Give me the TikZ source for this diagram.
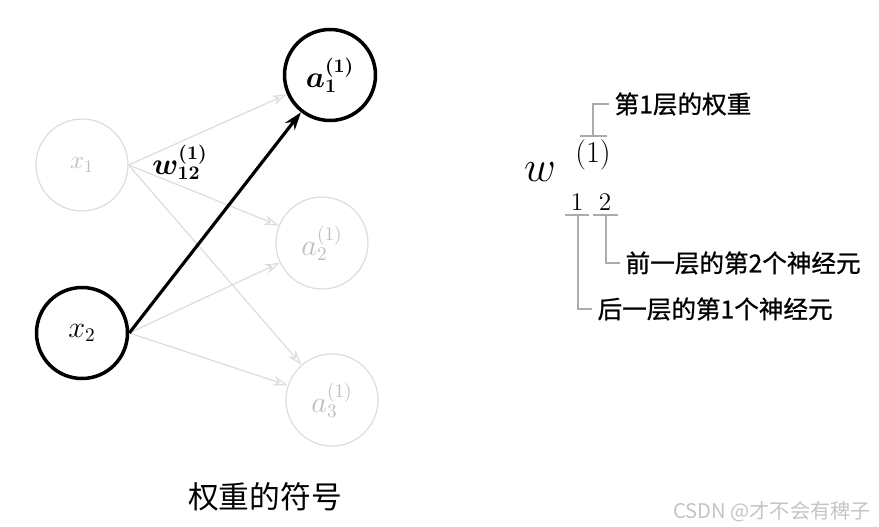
\documentclass[tikz,border=0pt]{standalone}
\usepackage{fontspec}
\usepackage{bm}
\usepackage{tikz}
\usetikzlibrary{arrows.meta}
\newfontfamily\cjk{Noto Sans CJK SC}
\newfontfamily\cjkmid{Noto Sans CJK SC}[FakeBold=0.8]
\definecolor{nngray}{HTML}{DDDDDD}
\definecolor{nntext}{HTML}{BEBEBE}
\definecolor{nnlead}{HTML}{ABABAB}
\definecolor{nnmark}{HTML}{C4C4C4}

\begin{document}
\begin{tikzpicture}[x=0.02cm,y=-0.02cm,
 neuron/.style={circle,draw=black,line width=2pt,minimum size=1.82cm,inner sep=0pt},
 dimneuron/.style={circle,draw=nngray,line width=0.7pt,minimum size=1.84cm,inner sep=0pt,text=nntext},
 dimarrow/.style={-{Stealth[open,length=3mm,width=2mm]},draw=nngray,line width=0.7pt},
 mainarrow/.style={-{Stealth[length=3.6mm,width=2.4mm]},line width=1.8pt},
 notelabel/.style={anchor=west,font=\cjkmid\fontsize{14}{16}\selectfont,inner sep=3pt},
 notelead/.style={draw=nnlead,line width=0.8pt},
 notebar/.style={draw=nnlead,line width=0.7pt}
]
\useasboundingbox (0,0) rectangle (879,527);
% network
\node[dimneuron,font=\fontsize{14}{16}\selectfont] (x1) at (82,165) {$x_1$};
\node[neuron,font=\fontsize{16}{18}\selectfont] (x2) at (82,333) {$x_2$};
\node[neuron,font=\fontsize{16}{18}\selectfont] (a1) at (330,75) {$\bm{a^{(1)}_1}$};
\node[dimneuron,font=\fontsize{16}{18}\selectfont] (a2) at (322,243) {$a^{(1)}_2$};
\node[dimneuron,font=\fontsize{16}{18}\selectfont] (a3) at (332,400) {$a^{(1)}_3$};
\draw[dimarrow] (x1.east)--(a1);
\draw[dimarrow] (x1.east)--(a2);
\draw[dimarrow] (x1.east)--(a3);
\draw[dimarrow] (x2.east)--(a2);
\draw[dimarrow] (x2.east)--(a3);
\draw[mainarrow] (x2.east)--(a1);
\node[font=\fontsize{16}{18}\selectfont] (wlabel) at (180,162) {$\bm{w^{(1)}_{12}}$};
% notation
\node[font=\fontsize{36}{38}\selectfont] (wsym) at (540,172) {$w$};
\node[font=\fontsize{17}{19}\selectfont] (wsup) at (593,155) {$(1)$};
\node[font=\fontsize{15}{17}\selectfont] (wsubi) at (577,202) {$1$};
\node[font=\fontsize{15}{17}\selectfont] (wsubj) at (605,202) {$2$};
\coordinate (supmid) at (593,136);
\coordinate (subimid) at (578,215);
\coordinate (subjmid) at (606,215);
\draw[notebar] (580,136)--(607,136);
\draw[notebar] (565,215)--(589,215);
\draw[notebar] (593,215)--(618,215);
\node[notelabel] (layer) at (609,104) {第1层的权重};
\node[notelabel] (prev) at (620,263) {前一层的第2个神经元};
\node[notelabel] (next) at (592,309) {后一层的第1个神经元};
\draw[notelead] (supmid) |- (layer.west);
\draw[notelead] (subjmid) |- (prev.west);
\draw[notelead] (subimid) |- (next.west);
% caption
\node[font=\cjk\fontsize{17.5}{20}\selectfont] (title) at (265,497) {权重的符号};
\node[font=\cjk\fontsize{11.5}{13}\selectfont,text=nnmark] (mark) at (772,512) {CSDN @才不会有稗子};
\end{tikzpicture}
\end{document}
